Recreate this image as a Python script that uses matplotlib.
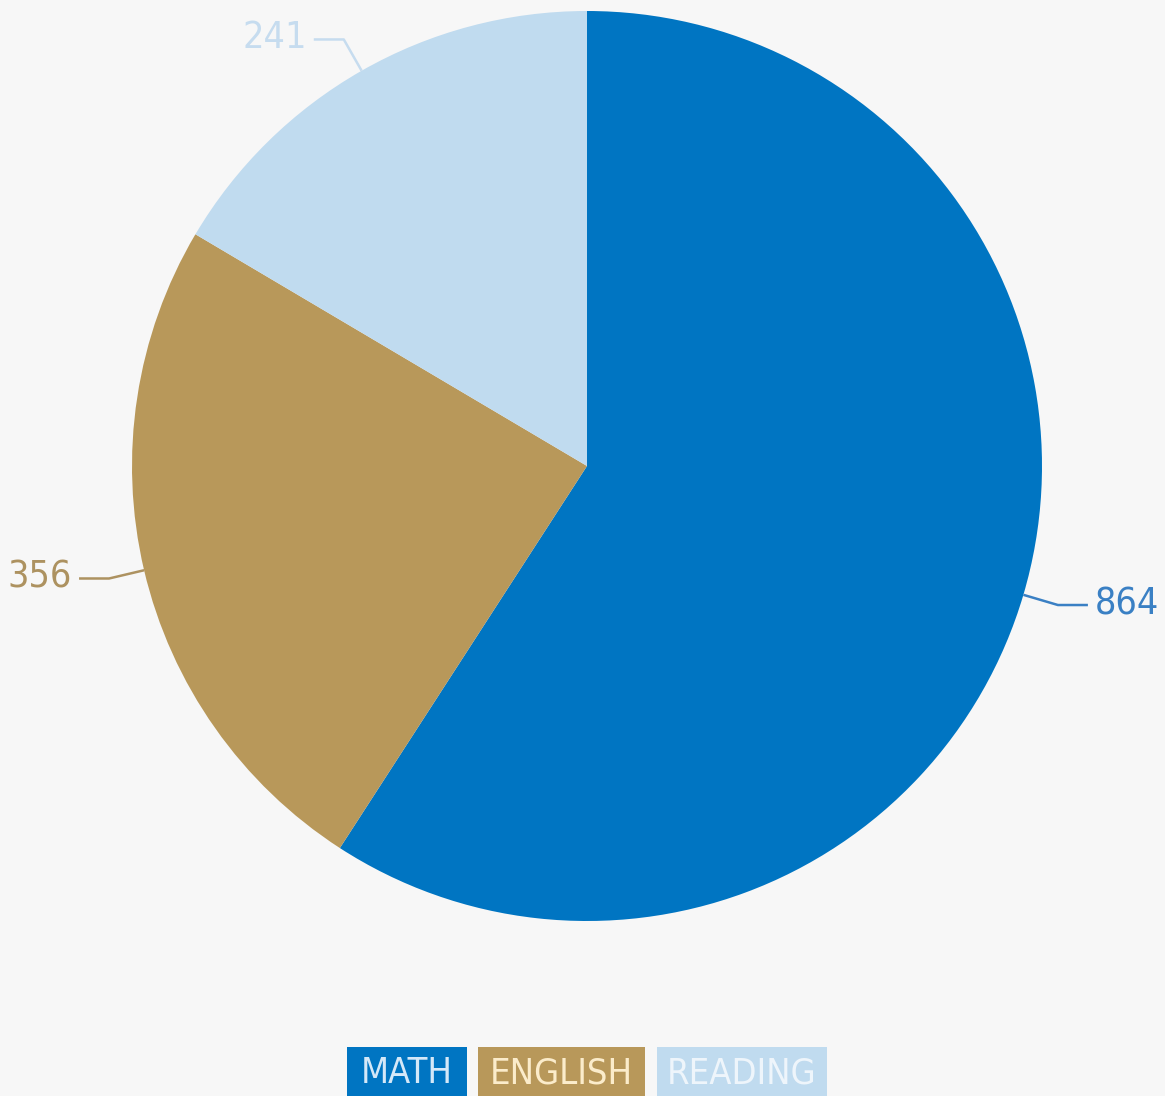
import numpy as np
import matplotlib
matplotlib.use("Agg")
import matplotlib.pyplot as plt
from matplotlib.patches import Rectangle

plt.rcParams['font.family'] = ['DejaVu Sans']
plt.rcParams['font.stretch'] = 'condensed'

subjects = ["MATH", "ENGLISH", "READING"]
counts = [864, 356, 241]
colors = ["#0075c2", "#b8985a", "#c0dbef"]
label_colors = ["#3a80c4", "#ad9260", "#c6dcef"]
legend_text = ["#d5e8f8", "#fbeccb", "#eef5fb"]

W, H = 1165, 1096
bg = "#f7f7f7"
fig = plt.figure(figsize=(W / 100, H / 100), dpi=100, facecolor=bg)
ax = fig.add_axes([0, 0, 1, 1])

cx, cy, r = 587, H - 466, 455
wedges, _ = ax.pie(counts, colors=colors, startangle=90, counterclock=False,
                   center=(cx, cy), radius=r, frame=True,
                   wedgeprops=dict(linewidth=0))
ax.set_xlim(0, W)
ax.set_ylim(0, H)
ax.axis("off")

# leader lines: short radial stub, then a horizontal run to the number
for w, val, col in zip(wedges, counts, label_colors):
    mid = np.deg2rad((w.theta1 + w.theta2) / 2)
    dx, dy = np.cos(mid), np.sin(mid)
    x0, y0 = cx + r * dx, cy + r * dy
    x1, y1 = cx + (r + 36) * dx, cy + (r + 36) * dy
    side = 1 if dx > 0 else -1
    x2 = x1 + side * 30
    ax.plot([x0, x1, x2], [y0, y1, y1], color=col, lw=1.8, solid_capstyle="butt")
    ax.text(x2 + side * 7, y1 + 1, str(val), color=col, fontsize=27,
            ha="left" if side > 0 else "right", va="center")

# legend chips along the bottom
chip_left = [347, 478, 657]
chip_right = [467, 645, 827]
for name, c, tc, x0, x1 in zip(subjects, colors, legend_text, chip_left, chip_right):
    ax.add_patch(Rectangle((x0, -20), x1 - x0, H - 1047 + 20, facecolor=c,
                           edgecolor="none", zorder=2))
    ax.text((x0 + x1) / 2, H - 1073, name, fontsize=26, color=tc,
            ha="center", va="center", zorder=3)

fig.savefig("out.png", dpi=100, facecolor=bg)
